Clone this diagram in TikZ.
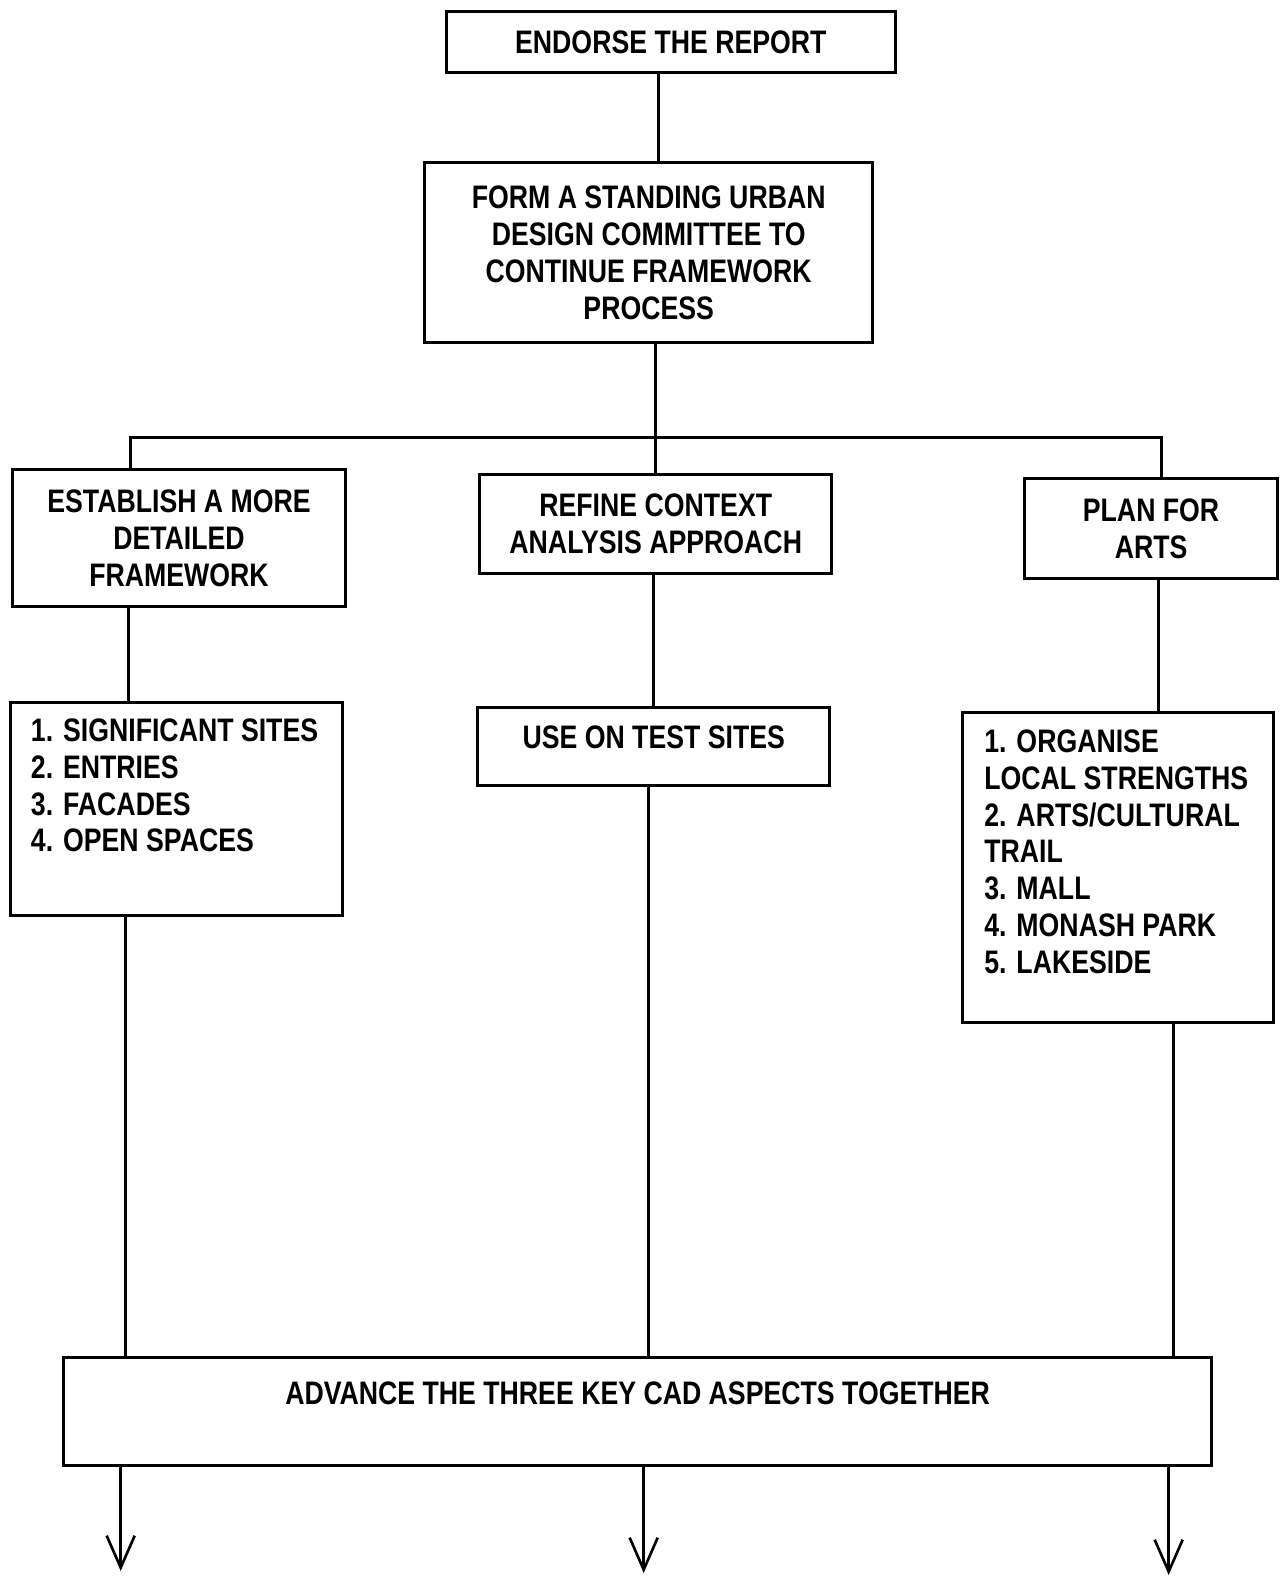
\documentclass[tikz,border=0pt]{standalone}
\usepackage{fontspec}
\setmainfont{Liberation Sans}[FakeStretch=0.82]
\usepackage{tikz}
\usetikzlibrary{shapes, arrows, arrows.meta, calc, fit}
\tikzstyle{stepbox} = [rectangle, draw, line width=1.7pt, fill=white,
    align=center, inner sep=0pt, font=\fontsize{18.5}{21}\selectfont\bfseries]
\tikzstyle{listtext} = [align=left, anchor=north west, inner sep=0pt,
    font=\fontsize{18.5}{20.9}\selectfont\bfseries]
\tikzstyle{line} = [draw, line width=1.5pt]
\tikzstyle{arrowline} = [line, -{Straight Barb[length=0.64cm, width=0.56cm]}]

\begin{document}
\begin{tikzpicture}[x=0.0201cm, y=-0.0201cm]
    \useasboundingbox (0,0) rectangle (1275,1568);

    \node[stepbox, minimum width=8.96cm, minimum height=1.21cm] (endorse) at (667,42) {ENDORSE THE REPORT};
    \node[stepbox, minimum width=8.96cm, minimum height=3.58cm] (form) at (645,251)
        {FORM A STANDING URBAN\\ DESIGN COMMITTEE TO\\ CONTINUE FRAMEWORK\\ PROCESS};

    \node[stepbox, minimum width=6.67cm, minimum height=2.73cm] (establish) at (178,535)
        {ESTABLISH A MORE\\ DETAILED\\ FRAMEWORK};
    \node[stepbox, minimum width=7.04cm, minimum height=1.97cm] (refine) at (652,521)
        {REFINE CONTEXT\\ ANALYSIS APPROACH};
    \node[stepbox, minimum width=5.05cm, minimum height=1.99cm] (plan) at (1144.5,525.5)
        {PLAN FOR\\ ARTS};

    \node[stepbox, minimum width=6.65cm, minimum height=4.26cm,
        label={[listtext, name=sitestxt, xshift=0.44cm, yshift=-0.36cm]north west:{1. SIGNIFICANT SITES\\ 2. ENTRIES\\ 3. FACADES\\ 4. OPEN SPACES}}]
        (sites) at (175.5,804) {};
    \node[stepbox, minimum width=7.04cm, minimum height=1.55cm,
        label={[stepbox, draw=none, fill=none, name=testtxt, yshift=0.19cm]center:USE ON TEST SITES}]
        (test) at (650,742.5) {};
    \node[stepbox, minimum width=6.21cm, minimum height=6.21cm,
        label={[listtext, name=artstxt, xshift=0.46cm, yshift=-0.38cm]north west:{1. ORGANISE\\ LOCAL STRENGTHS\\ 2. ARTS/CULTURAL\\ TRAIL\\ 3. MALL\\ 4. MONASH PARK\\ 5. LAKESIDE}}]
        (arts) at (1111.5,862.5) {};

    \node[stepbox, minimum width=22.95cm, minimum height=2.15cm,
        label={[stepbox, draw=none, fill=none, name=advancetxt, yshift=0.37cm]center:ADVANCE THE THREE KEY CAD ASPECTS TOGETHER}]
        (advance) at (634,1403.5) {};

    % columns of the connectors
    \coordinate (top) at (655,100);
    \coordinate (split) at (652,435);
    \coordinate (bl) at (130,435);
    \coordinate (br) at (1155,435);
    \coordinate (colA) at (128,650);
    \coordinate (colB) at (650,650);
    \coordinate (colC) at (1152,650);
    \coordinate (lowA) at (125,1100);
    \coordinate (lowB) at (645,1100);
    \coordinate (lowC) at (1167,1100);
    \coordinate (out1) at (120,1562);
    \coordinate (out2) at (640,1564);
    \coordinate (out3) at (1162,1566);

    \draw[line] (endorse.south -| top) -- (form.north -| top);
    \draw[line] (form.south -| split) -- (split) -- (refine.north -| split);
    \draw[line] (establish.north -| bl) -- (bl) -- (br) -- (plan.north -| br);

    \draw[line] (establish.south -| colA) -- (sites.north -| colA);
    \draw[line] (refine.south -| colB) -- (test.north -| colB);
    \draw[line] (plan.south -| colC) -- (arts.north -| colC);

    \draw[line] (sites.south -| lowA) -- (advance.north -| lowA);
    \draw[line] (test.south -| lowB) -- (advance.north -| lowB);
    \draw[line] (arts.south -| lowC) -- (advance.north -| lowC);

    \draw[arrowline] (advance.south -| out1) -- (out1);
    \draw[arrowline] (advance.south -| out2) -- (out2);
    \draw[arrowline] (advance.south -| out3) -- (out3);
\end{tikzpicture}
\end{document}
